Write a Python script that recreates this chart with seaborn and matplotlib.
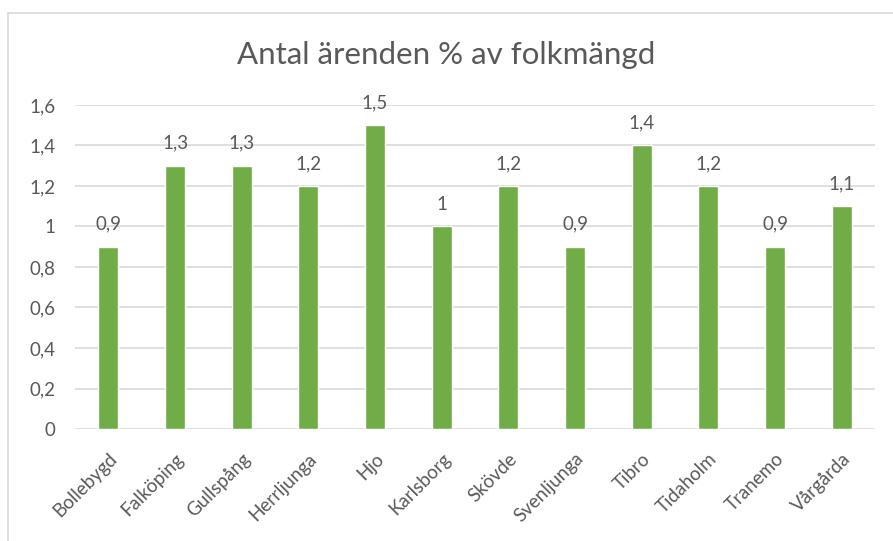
import matplotlib
matplotlib.use("Agg")
import matplotlib.pyplot as plt
import matplotlib.patches as mpatches
import seaborn as sns
import pandas as pd

kommuner = ["Bollebygd", "Falköping", "Gullspång", "Herrljunga", "Hjo", "Karlsborg",
            "Skövde", "Svenljunga", "Tibro", "Tidaholm", "Tranemo", "Vårgårda"]
andel = [0.9, 1.3, 1.3, 1.2, 1.5, 1.0, 1.2, 0.9, 1.4, 1.2, 0.9, 1.1]
yticks = [0, 0.2, 0.4, 0.6, 0.8, 1.0, 1.2, 1.4, 1.6]

df = pd.DataFrame({"kommun": kommuner, "andel": andel})

sns.set_theme(style="white")
plt.rcParams["font.family"] = ["Lato", "DejaVu Sans"]

def sv(v):
    s = f"{v:g}"
    return s.replace(".", ",")

text_col = "#595959"
fig = plt.figure(figsize=(8.93, 5.41), dpi=100)
ax = fig.add_axes([0.084, 0.207, 0.896, 0.599])

sns.barplot(data=df, x="kommun", y="andel", color="#70AD47", width=0.3,
            saturation=1, ax=ax)

ax.set_ylim(0, 1.6)
ax.set_xlim(-0.5, len(kommuner) - 0.5)
ax.set_yticks(yticks)
ax.set_yticklabels([sv(t) for t in yticks])
ax.yaxis.grid(True, color="#D9D9D9", linewidth=1.2)
ax.set_axisbelow(True)
for s in ax.spines.values():
    s.set_visible(False)
ax.tick_params(axis="both", length=0, labelsize=13.5, colors=text_col)
ax.tick_params(axis="y", pad=14)
ax.tick_params(axis="x", pad=15)
plt.setp(ax.get_xticklabels(), rotation=45, ha="right", rotation_mode="anchor")
ax.set_xlabel("")
ax.set_ylabel("")

for cont in ax.containers:
    ax.bar_label(cont, labels=[sv(v) for v in andel], padding=10,
                 fontsize=13.5, color=text_col)

fig.text(0.5, 0.898, "Antal ärenden % av folkmängd", ha="center", va="center",
         fontsize=22.5, color=text_col)

# chart frame
fig.patches.append(mpatches.Rectangle((8 / 893, -0.05), 1.2, 1 - 13 / 541 + 0.05,
                                      transform=fig.transFigure, fill=False,
                                      edgecolor="#D9D9D9", linewidth=1.2))

fig.savefig("out.png", dpi=100, facecolor="white")
